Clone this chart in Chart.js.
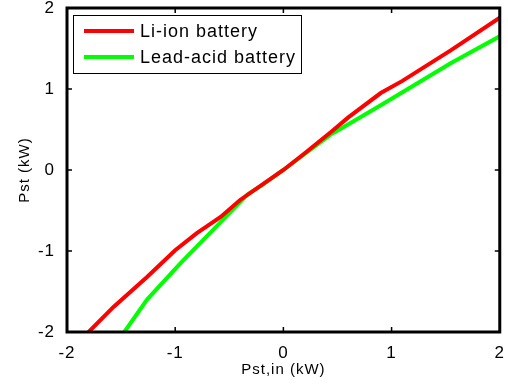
<!DOCTYPE html>
<html>
<head>
<meta charset="utf-8">
<script src="https://cdn.jsdelivr.net/npm/chart.js@4"></script>
<style>
  html, body { margin: 0; padding: 0; background: #fff; }
  #wrap { width: 508px; height: 384px; }
</style>
</head>
<body>
<div id="wrap"><canvas id="chart" width="508" height="384"></canvas></div>
<script>
// Values
const seriesNames = ['Li-ion battery', 'Lead-acid battery'];
const liionX = [-1.8, -1.57, -1.26, -1.0, -0.8, -0.58, -0.4, 0, 0.2, 0.44, 0.6, 0.9, 1.1, 1.55, 2.0];
const liionY = [-2, -1.69, -1.32, -0.99, -0.78, -0.58, -0.37, 0, 0.21, 0.47, 0.65, 0.95, 1.1, 1.48, 1.88];
const leadX = [-1.47, -1.26, -0.95, -0.65, -0.33, -0.2, 0, 0.17, 0.44, 0.53, 0.9, 1.1, 1.55, 2.0];
const leadY = [-2, -1.6, -1.15, -0.74, -0.3, -0.19, 0.0, 0.17, 0.44, 0.51, 0.80, 0.96, 1.32, 1.65];
const tickValues = [-2, -1, 0, 1, 2];

const FONT = 'Liberation Sans, Arial, Helvetica, sans-serif';

function toPoints(xs, ys) {
    return xs.map((x, i) => ({ x: x, y: ys[i] }));
}

// MATLAB's Helvetica runs wider than Liberation Sans, so space the letters a bit
const wideText = {
    id: 'wideText',
    beforeLayout(chart) { chart.ctx.letterSpacing = '1px'; },
    beforeDraw(chart) { chart.ctx.letterSpacing = '1px'; }
};

// Draws the MATLAB-style box, inward ticks and the legend
const matlabAxes = {
    id: 'matlabAxes',
    afterDatasetsDraw(chart) {
        const { ctx, chartArea: a, scales } = chart;
        ctx.save();
        ctx.strokeStyle = '#000';
        ctx.lineWidth = 1.5;
        const tl = 5;
        tickValues.forEach(v => {
            const px = scales.x.getPixelForValue(v);
            const py = scales.y.getPixelForValue(v);
            ctx.beginPath();
            ctx.moveTo(px, a.bottom); ctx.lineTo(px, a.bottom - tl);
            ctx.moveTo(px, a.top); ctx.lineTo(px, a.top + tl);
            ctx.moveTo(a.left, py); ctx.lineTo(a.left + tl, py);
            ctx.moveTo(a.right, py); ctx.lineTo(a.right - tl, py);
            ctx.stroke();
        });
        ctx.lineWidth = 3;
        ctx.strokeRect(a.left, a.top, a.right - a.left, a.bottom - a.top);

        // legend
        const lx = a.left + 6, ly = a.top + 7, lw = 228, lh = 58;
        ctx.fillStyle = '#fff';
        ctx.fillRect(lx, ly, lw, lh);
        ctx.lineWidth = 1;
        ctx.strokeRect(lx + 0.5, ly + 0.5, lw, lh);
        ctx.font = '18px ' + FONT;
        ctx.letterSpacing = '1px';
        ctx.textBaseline = 'middle';
        chart.data.datasets.forEach((ds, i) => {
            const y = ly + 16 + i * 26;
            ctx.strokeStyle = ds.borderColor;
            ctx.lineWidth = 4;
            ctx.beginPath();
            ctx.moveTo(lx + 11, y); ctx.lineTo(lx + 61, y);
            ctx.stroke();
            ctx.fillStyle = '#000';
            ctx.fillText(ds.label, lx + 67, y + 1);
        });
        ctx.restore();
    }
};

new Chart(document.getElementById('chart'), {
    type: 'scatter',
    data: {
        datasets: [
            {
                label: seriesNames[0],
                data: toPoints(liionX, liionY),
                showLine: true,
                borderColor: '#ff0000',
                backgroundColor: '#ff0000',
                borderWidth: 4,
                pointRadius: 0
            },
            {
                label: seriesNames[1],
                data: toPoints(leadX, leadY),
                showLine: true,
                borderColor: '#00ff00',
                backgroundColor: '#00ff00',
                borderWidth: 4,
                pointRadius: 0
            }
        ]
    },
    options: {
        responsive: false,
        animation: false,
        layout: { padding: { left: 0, top: 8, right: 3, bottom: 0 } },
        plugins: {
            legend: { display: false },
            tooltip: { enabled: false }
        },
        scales: {
            x: {
                type: 'linear',
                min: -2,
                max: 2,
                afterBuildTicks: s => { s.ticks = tickValues.map(v => ({ value: v })); },
                afterFit: s => { s.height = 52; },
                grid: { display: false },
                border: { display: false },
                ticks: { color: '#000', font: { family: FONT, size: 17 }, padding: 3, maxRotation: 0 },
                title: { display: true, text: 'Pst,in (kW)', color: '#000', font: { family: FONT, size: 15 }, padding: { top: 0, bottom: 5 } }
            },
            y: {
                type: 'linear',
                min: -2,
                max: 2,
                afterBuildTicks: s => { s.ticks = tickValues.map(v => ({ value: v })); },
                afterFit: s => { s.width = 67; s.paddingTop = 0; s.paddingBottom = 0; },
                grid: { display: false },
                border: { display: false },
                ticks: { color: '#000', font: { family: FONT, size: 17 }, padding: 4 },
                title: { display: true, text: 'Pst (kW)', color: '#000', font: { family: FONT, size: 15 }, padding: { top: 16, bottom: 0 } }
            }
        }
    },
    plugins: [wideText, matlabAxes]
});
</script>
</body>
</html>
